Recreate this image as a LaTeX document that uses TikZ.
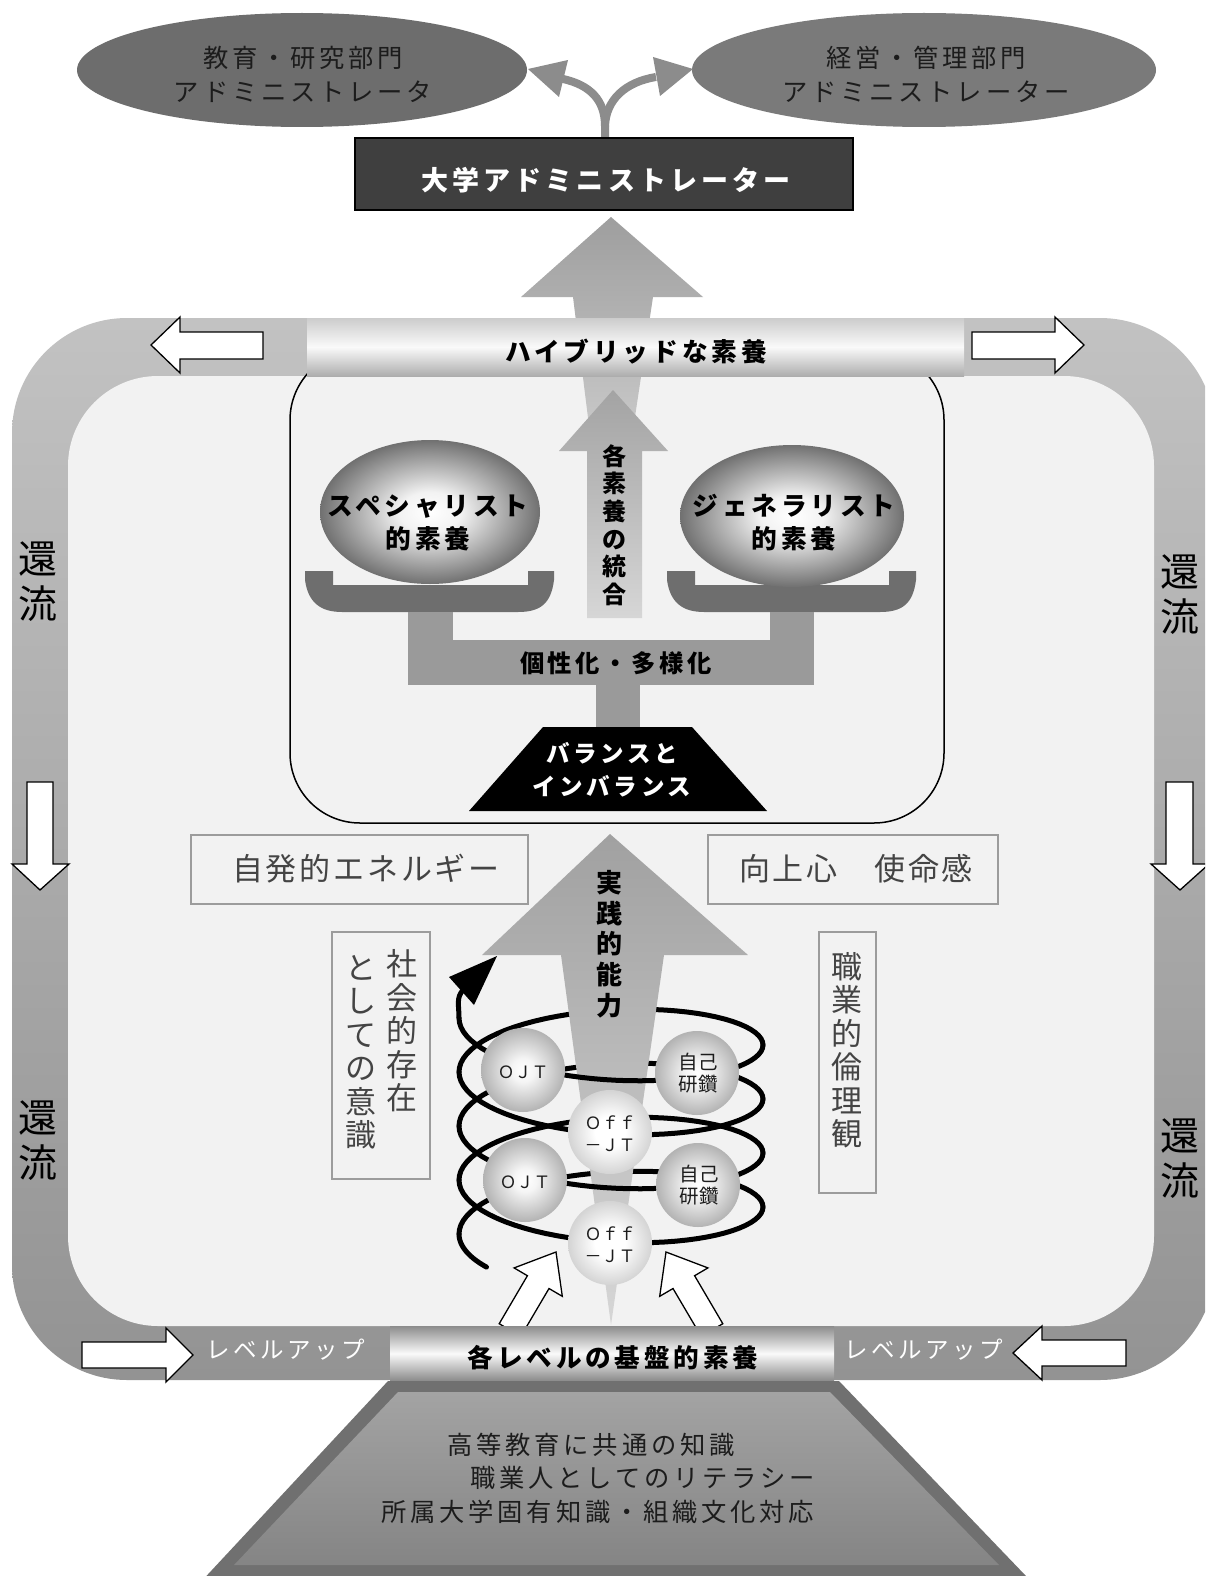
\documentclass[tikz,border=0pt]{standalone}
\usepackage{fontspec}
\newfontfamily\jp[LetterSpace=15]{Noto Sans CJK JP}
\newfontfamily\jpb[LetterSpace=9]{Noto Sans CJK JP}
\newfontfamily\jpv{Noto Sans CJK JP}
\definecolor{bandT}{HTML}{C2C2C2}
\definecolor{bandB}{HTML}{939393}
\definecolor{innerbg}{HTML}{F2F2F2}
\definecolor{ellL}{HTML}{6D6D6D}
\definecolor{ellR}{HTML}{7A7A7A}
\definecolor{darkbox}{HTML}{3F3F3F}
\definecolor{curvearr}{HTML}{8C8C8C}
\definecolor{bowl}{HTML}{6E6E6E}
\definecolor{colgray}{HTML}{9A9A9A}
\definecolor{boxline}{HTML}{9C9C9C}
\definecolor{boxtext}{HTML}{444444}
\definecolor{trapout}{HTML}{707070}
\definecolor{txtdark}{HTML}{1C1C1C}
\pgfdeclareradialshading{bigsph}{\pgfpoint{0bp}{0bp}}{color(0bp)=(white); color(7bp)=(white!95!black); color(18bp)=(black!36); color(25bp)=(black!56); color(50bp)=(black!56)}
\pgfdeclareradialshading{smallsph}{\pgfpoint{0bp}{0bp}}{color(0bp)=(white); color(7bp)=(white!96!black); color(25bp)=(black!30); color(50bp)=(black!30)}
\pgfdeclareradialshading{offsph}{\pgfpoint{0bp}{0bp}}{color(0bp)=(white); color(9bp)=(white); color(25bp)=(black!17); color(50bp)=(black!17)}
\tikzset{
  whitearrow/.style={fill=white, draw=black, line width=1.3pt},
  graybox/.style={draw=boxline, line width=2pt},
  helixline/.style={draw=black, line width=5pt, line cap=round},
  smallball/.style={shading=smallsph},
  offball/.style={shading=offsph},
  bigball/.style={shading=bigsph},
}
\begin{document}
\begin{tikzpicture}[x=1pt,y=-1pt]
\useasboundingbox (0,0) rectangle (1205,1576);
\clip (0,0) rectangle (1205,1576);
\fill[white] (0,0) rectangle (1205,1576);

% ---- outer band and inner area
\shade[top color=bandT, bottom color=bandB, rounded corners=115pt] (12,318) rectangle (1215,1380);
\fill[innerbg, rounded corners=90pt] (68,376) rectangle (1154,1326);

% inner rounded box
\draw[line width=1.5pt, rounded corners=70pt] (290,350) rectangle (944,823);

% ---- big arrow to top box
\shade[top color=black!38, bottom color=black!20] (611,217) -- (703,297) -- (653,297) -- (630,450) -- (592,450) -- (573,297) -- (521,297) -- cycle;

% ---- hybrid band
\shade[top color=black!20, bottom color=black!32, middle color=white!98!black] (307,318) rectangle (964,376);
\node[font=\jp\bfseries\fontsize{25.7}{30}\selectfont] (hyb) at (636,352) {ハイブリッドな素養};

% white arrows on top band
\path[whitearrow] (151,345) -- (180,317) -- (180,332) -- (263,332) -- (263,359) -- (180,359) -- (180,373) -- cycle;
\path[whitearrow] (1084,345) -- (1055,317) -- (1055,332) -- (972,332) -- (972,359) -- (1055,359) -- (1055,373) -- cycle;
% side down arrows
\path[whitearrow] (40,890) -- (12,864) -- (27,864) -- (27,782) -- (53,782) -- (53,864) -- (69,864) -- cycle;
\path[whitearrow] (1180,890) -- (1151,864) -- (1166,864) -- (1166,782) -- (1193,782) -- (1193,864) -- (1209,864) -- cycle;
% bottom level-up arrows
\path[whitearrow] (193,1355) -- (166,1328) -- (166,1342) -- (82,1342) -- (82,1368) -- (166,1368) -- (166,1382) -- cycle;
\path[whitearrow] (1013,1353) -- (1042,1326) -- (1042,1340) -- (1126,1340) -- (1126,1366) -- (1042,1366) -- (1042,1380) -- cycle;

% 還流 labels
\node[font=\jpv\fontsize{39}{45}\selectfont, align=center] (kr1) at (38,582) {還\\流};
\node[font=\jpv\fontsize{39}{45}\selectfont, align=center] (kr2) at (38,1141) {還\\流};
\node[font=\jpv\fontsize{39}{45}\selectfont, align=center] (kr3) at (1180,595) {還\\流};
\node[font=\jpv\fontsize{39}{45}\selectfont, align=center] (kr4) at (1180,1159) {還\\流};

% level up labels
\node[font=\jp\fontsize{23.5}{26}\selectfont, text=white] (lu1) at (286,1350) {レベルアップ};
\node[font=\jp\fontsize{23.5}{26}\selectfont, text=white] (lu2) at (924,1350) {レベルアップ};

% ---- integration arrow
\shade[top color=black!36, bottom color=black!16] (613,390) -- (668,451) -- (642,451) -- (642,618) -- (587,618) -- (587,451) -- (559,451) -- cycle;
\node[font=\jpv\bfseries\fontsize{24}{27.6}\selectfont, align=center] (toug) at (614,525) {各\\素\\養\\の\\統\\合};

% ---- balance
\fill[bowl] (305,571) -- (333,571) -- (333,585) -- (528,585) -- (528,571) -- (554,571) -- (554,580)
  .. controls (551,604) and (540,612) .. (518,612) -- (342,612) .. controls (320,612) and (308,602) .. (305,580) -- cycle;
\fill[bowl] (667,571) -- (695,571) -- (695,585) -- (889,585) -- (889,571) -- (916,571) -- (916,580)
  .. controls (913,604) and (902,612) .. (880,612) -- (704,612) .. controls (682,612) and (670,602) .. (667,580) -- cycle;
\fill[colgray] (408,612) rectangle (453,641);
\fill[colgray] (770,612) rectangle (814,641);
\fill[colgray] (408,640) rectangle (814,685);
\fill[colgray] (596,684) rectangle (640,728);
\node[font=\jp\bfseries\fontsize{24.3}{28}\selectfont] (kosei) at (616,663) {個性化・多様化};

\shade[bigball] (430,512) ellipse [x radius=110, y radius=72];
\shade[bigball] (792,516) ellipse [x radius=112, y radius=71];
\node[font=\jp\bfseries\fontsize{25.7}{33}\selectfont, align=center] (spec) at (428,523) {スペシャリスト\\的素養};
\node[font=\jp\bfseries\fontsize{25.7}{33}\selectfont, align=center] (gene) at (794,523) {ジェネラリスト\\的素養};

\fill[black] (543,727) -- (692,727) -- (767,811) -- (469,811) -- cycle;
\node[font=\jp\bfseries\fontsize{23.5}{33}\selectfont, align=center, text=white] (bal) at (612,770) {バランスと\\インバランス};

% ---- text boxes
\draw[graybox] (191,835) rectangle (528,904);
\node[font=\jpb\fontsize{31}{34}\selectfont, text=boxtext] (jihatsu) at (366,869) {自発的エネルギー};
\draw[graybox] (708,835) rectangle (998,904);
\node[font=\jpb\fontsize{31}{34}\selectfont, text=boxtext] (kojo) at (856,869) {向上心　使命感};

\draw[graybox] (332,932) rectangle (430,1179);
\node[font=\jpv\fontsize{31}{33.5}\selectfont, align=center, text=boxtext] (shakai) at (402,1031) {社\\会\\的\\存\\在};
\node[font=\jpv\fontsize{31}{33.5}\selectfont, align=center, text=boxtext] (ishiki) at (361,1052) {と\\し\\て\\の\\意\\識};
\draw[graybox] (819,932) rectangle (876,1193);
\node[font=\jpv\fontsize{31}{33.5}\selectfont, align=center, text=boxtext] (rinri) at (847,1050) {職\\業\\的\\倫\\理\\観};

% ---- helix back parts
\foreach \a/\b in {0/180, 360/540, 720/900, 1080/1260}{
  \draw[helixline] plot[domain=\a:\b, samples=40, variable=\t] ({611-152*cos(\t)},{1234-0.15*\t-48.5*sin(\t)});
}

% ---- practical ability arrow
\shade[top color=black!37, bottom color=black!16] (610,834) -- (748,955) -- (664,955) -- (611,1325) -- (561,955) -- (482,955) -- cycle;
\node[font=\jpv\bfseries\fontsize{26}{30.7}\selectfont, align=center] (jissen) at (609,944) {実\\践\\的\\能\\力};

% ---- helix front parts
\foreach \a/\b in {-35/0, 180/360, 540/720, 900/1080, 1260/1440}{
  \draw[helixline] plot[domain=\a:\b, samples=40, variable=\t] ({611-152*cos(\t)},{1234-0.15*\t-48.5*sin(\t)});
}
\coordinate (hend) at (459,1018);
\coordinate (hbase) at (463,990);
\draw[helixline] (hend) .. controls (459,1005) and (456,998) .. (hbase);
\fill[black] (497,956) -- (449,977) -- (474,1005) -- cycle;

% ---- spheres
\shade[smallball] (523,1070) circle (42);
\shade[smallball] (697,1073) circle (42);
\shade[offball] (610,1132) circle (42);
\shade[smallball] (525,1180) circle (42);
\shade[smallball] (698,1185) circle (42);
\shade[offball] (610,1243) circle (42);
\node[font=\jpv\fontsize{17}{22}\selectfont, text=txtdark] (ojt1) at (523,1072) {ＯＪＴ};
\node[font=\jpv\fontsize{19.5}{22}\selectfont, text=txtdark, align=center] (jiko1) at (698,1073) {自己\\研鑽};
\node[font=\jpv\fontsize{17}{22}\selectfont, text=txtdark, align=center] (off1) at (610,1134) {Ｏｆｆ\\－ＪＴ};
\node[font=\jpv\fontsize{17}{22}\selectfont, text=txtdark] (ojt2) at (525,1182) {ＯＪＴ};
\node[font=\jpv\fontsize{19.5}{22}\selectfont, text=txtdark, align=center] (jiko2) at (699,1185) {自己\\研鑽};
\node[font=\jpv\fontsize{17}{22}\selectfont, text=txtdark, align=center] (off2) at (610,1245) {Ｏｆｆ\\－ＪＴ};

% ---- white arrows from the base
\path[whitearrow] (499.2,1323.7) -- (527.4,1275.7) -- (514.1,1267.9) -- (556,1252) -- (562.3,1296.3) -- (549.0,1288.5) -- (520.8,1336.4) -- cycle;
\path[whitearrow] (722.8,1323.7) -- (694.6,1275.7) -- (707.9,1267.9) -- (666,1252) -- (659.7,1296.3) -- (673,1288.5) -- (701.2,1336.4) -- cycle;

% ---- base label band
\shade[top color=black!45, bottom color=black!46, middle color=white!98!black] (390,1326) rectangle (834,1381);
\node[font=\jp\bfseries\fontsize{25.6}{30}\selectfont] (kiban) at (613,1358) {各レベルの基盤的素養};

% ---- bottom trapezoid
\fill[trapout] (388,1381) -- (839,1381) -- (1049,1600) -- (184,1600) -- cycle;
\shade[top color=black!36, bottom color=black!48] (398,1392) -- (830,1392) -- (999,1565) -- (234,1565) -- cycle;
\node[font=\jp\fontsize{25.3}{30}\selectfont, text=txtdark, anchor=west] (t1) at (444,1445) {高等教育に共通の知識};
\node[font=\jp\fontsize{25.3}{30}\selectfont, text=txtdark, anchor=west] (t2) at (467,1478) {職業人としてのリテラシー};
\node[font=\jp\fontsize{25.3}{30}\selectfont, text=txtdark, anchor=west] (t3) at (378,1512) {所属大学固有知識・組織文化対応};

% ---- top part
\fill[ellL] (302,70) ellipse [x radius=225, y radius=57];
\fill[ellR] (924,70) ellipse [x radius=232, y radius=57];
\node[font=\jp\fontsize{25.3}{34}\selectfont, text=txtdark, align=center] (kyoiku) at (303,74) {教育・研究部門\\アドミニストレータ};
\node[font=\jp\fontsize{25.3}{34}\selectfont, text=txtdark, align=center] (keiei) at (926,74) {経営・管理部門\\アドミニストレーター};

\fill[darkbox, draw=black, line width=2.5pt] (355,138) rectangle (853,210);
\node[font=\jp\bfseries\fontsize{27}{32}\selectfont, text=white] (univ) at (606,180) {大学アドミニストレーター};

\coordinate (stem) at (605,137);
\coordinate (lbase) at (563,79);
\coordinate (rbase) at (656,77);
\draw[curvearr, line width=8pt] (stem) -- (605,126) .. controls (605,100) and (590,85) .. (lbase);
\draw[curvearr, line width=8pt] (605,126) .. controls (606,100) and (625,82) .. (rbase);
\fill[curvearr] (528,69) -- (568,60) -- (559,97) -- cycle;
\fill[curvearr] (693,69) -- (653,57) -- (660,96) -- cycle;
\end{tikzpicture}
\end{document}
